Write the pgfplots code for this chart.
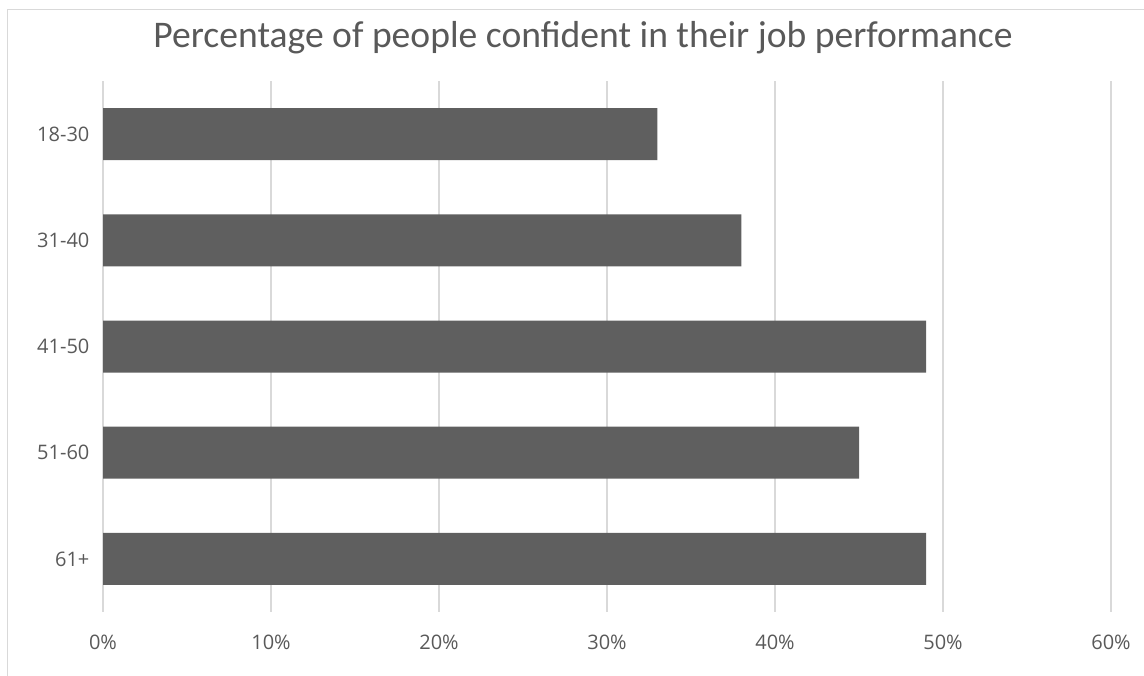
\documentclass[border=0pt]{standalone}
\usepackage{fontspec}
\setmainfont{Open Sans}
\newfontfamily\titlefont{Carlito}
\usepackage{pgfplots}
\pgfplotsset{compat=1.18}
\definecolor{bargray}{HTML}{5F5F5F}
\definecolor{gridgray}{HTML}{D9D9D9}
\definecolor{textgray}{HTML}{595959}
\definecolor{framegray}{HTML}{D9D9D9}
\begin{document}
\begin{tikzpicture}[x=0.75pt,y=0.75pt]
\useasboundingbox (0,0) rectangle (1144,675);
\clip (0,0) rectangle (1144,675);
% chart frame
\draw[framegray, line width=0.75pt] (7,-20) rectangle (1170,665);
\begin{axis}[
  at={(77.25pt,47.25pt)}, anchor=south west,
  scale only axis, width=756pt, height=398.25pt,
  xmin=0, xmax=60, ymin=-0.5, ymax=4.5, y dir=reverse,
  xbar, bar width=39pt, bar shift=0pt,
  xtick={0,10,...,60},
  xticklabel={\pgfmathprintnumber{\tick}\%},
  ytick={0,...,4},
  yticklabels={18-30,31-40,41-50,51-60,61+},
  xmajorgrids, ymajorgrids=false,
  grid style={gridgray, line width=1pt},
  axis line style={draw=none}, major tick length=0pt,
  /pgf/number format/assume math mode=true,
  tick label style={font=\fontsize{15}{18}\selectfont, text=textgray},
  xticklabel style={anchor=center, yshift=-22.5pt},
  yticklabel style={anchor=east, inner sep=0pt, xshift=-10pt},
]
\addplot[fill=bargray, draw=none] coordinates {(33,0) (38,1) (49,2) (45,3) (49,4)};
\end{axis}
\node[font=\titlefont\fontsize{28.2}{33}\selectfont, text=textgray] at (583,637)
  {Percentage of people confident in their job performance};
\end{tikzpicture}
\end{document}
